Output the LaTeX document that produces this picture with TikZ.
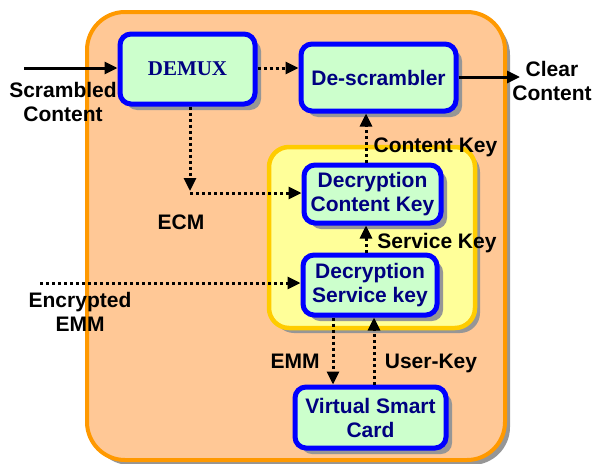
\documentclass[tikz,border=0pt]{standalone}
\usepackage{fontspec}
\setmainfont{Liberation Sans}
\newfontfamily\serifbold{Liberation Serif}
\usetikzlibrary{arrows.meta,shadows}

\definecolor{panelfill}{RGB}{255,200,150}
\definecolor{panelline}{RGB}{255,153,0}
\definecolor{keyfill}{RGB}{255,255,153}
\definecolor{keyline}{RGB}{255,204,0}
\definecolor{boxfill}{RGB}{204,255,204}
\definecolor{boxline}{RGB}{0,0,255}
\definecolor{boxtext}{RGB}{0,0,128}
\definecolor{shadowgray}{RGB}{150,150,150}

\tikzset{
  bigfont/.style={font=\fontsize{21}{24}\selectfont\bfseries},
  grayshadow/.style={drop shadow={shadow xshift=#1, shadow yshift=-#1, fill=shadowgray, opacity=1}},
  unit/.style={draw=boxline, line width=5pt, fill=boxfill, rounded corners=11pt,
    text=boxtext, bigfont, align=center, inner sep=0pt, grayshadow=6pt},
  lbl/.style={bigfont, text=black, align=center, inner sep=0pt},
  tip/.style={-{Triangle[length=13pt,width=12pt]}},
  solidarrow/.style={tip, line width=3pt},
  dotarrow/.style={tip, line width=3pt, dash pattern=on 3pt off 3pt},
}

\begin{document}
\begin{tikzpicture}[x=1pt,y=-1pt]
\useasboundingbox (0,0) rectangle (593,463);

% outer receiver panel
\path[draw=panelline, line width=4pt, fill=panelfill, rounded corners=38pt, grayshadow=5pt]
  (87,12) rectangle (505,460);

% key-handling area
\path[draw=keyline, line width=4.5pt, fill=keyfill, rounded corners=20pt, grayshadow=5pt]
  (269,147) rectangle (475,328);

% processing units
\node[unit, minimum width=135pt, minimum height=70pt, font=\fontsize{21}{24}\selectfont\serifbold\bfseries]
  (demux) at (187.5,69) {DEMUX};
\node[unit, minimum width=155pt, minimum height=67pt] (desc) at (378.5,77.5) {De-scrambler};
\node[unit, minimum width=137pt, minimum height=58pt] (dck) at (372.5,194) {Decryption\\Content Key};
\node[unit, minimum width=134pt, minimum height=60pt] (dsk) at (370,285) {Decryption\\Service key};
\node[unit, minimum width=151pt, minimum height=61pt] (vsc) at (370.5,417.5) {Virtual Smart\\Card};

% free ends of the external connectors
\coordinate (scin) at (24,68);
\coordinate (clrout) at (520,77);
\coordinate (ecmturn) at (190,191);
\coordinate (ecmstart) at (190,193);
\coordinate (emmin) at (40,283);

% connectors
\draw[solidarrow] (scin) -- (demux.west |- scin);
\draw[dotarrow] (demux.east |- 0,68) -- (desc.west |- 0,68);
\draw[solidarrow] (desc.east |- clrout) -- (clrout);
\draw[dotarrow] (demux.south -| ecmturn) -- (ecmturn);
\draw[dotarrow] (ecmstart) -- (dck.west |- ecmstart);
\draw[dotarrow] (emmin) -- (dsk.west |- emmin);
\draw[dotarrow] (dck.north -| 366,0) -- (desc.south -| 366,0);
\draw[dotarrow] (dsk.north -| 366,0) -- (dck.south -| 366,0);
\draw[dotarrow] (dsk.south -| 333,0) -- (vsc.north -| 333,0);
\draw[dotarrow] (vsc.north -| 374,0) -- (dsk.south -| 374,0);

% labels
\node[lbl] (lscr) at (63,102) {Scrambled\\Content};
\node[lbl] (lclr) at (552,81) {Clear\\Content};
\node[lbl, anchor=base] (lecm) at (181,229) {ECM};
\node[lbl] (lemmin) at (80,312) {Encrypted\\EMM};
\node[lbl, anchor=base] (lck) at (435.5,152) {Content Key};
\node[lbl, anchor=base] (lsk) at (437,248) {Service Key};
\node[lbl, anchor=base] (lemm) at (295,368) {EMM};
\node[lbl, anchor=base] (luk) at (431,368) {User-Key};
\end{tikzpicture}
\end{document}
